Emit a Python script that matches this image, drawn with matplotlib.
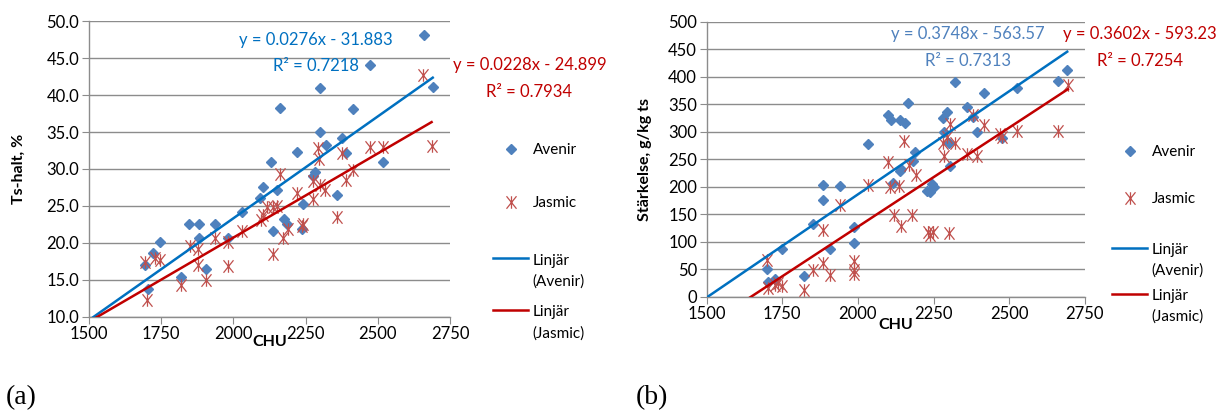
import numpy as np
import matplotlib
matplotlib.use('Agg')
import matplotlib.pyplot as plt
from matplotlib.path import Path
from matplotlib.legend_handler import HandlerLine2D

# (a) Ts-halt (%) against CHU
chu_av_a = [2660, 2473, 2690, 2300, 2161, 2413, 2300, 2375, 2320, 2390, 2221, 2130,
            2519, 2282, 2274, 2104, 2150, 2358, 2092, 2242, 2028, 1847, 1881, 1936,
            2175, 2184, 2138, 2236, 1882, 1982, 1746, 1723, 1694, 1905, 1817, 1705]
ts_av = [48.2, 44.1, 41.1, 40.9, 38.3, 38.1, 35.0, 34.2, 33.2, 32.1, 32.3, 31.0,
         31.0, 29.6, 29.0, 27.5, 27.1, 26.5, 26.0, 25.3, 24.1, 22.5, 22.5, 22.5,
         23.2, 22.6, 21.6, 21.8, 20.6, 20.6, 20.1, 18.6, 17.0, 16.5, 15.3, 13.7]
chu_ja_a = [2658, 2294, 2297, 2375, 2473, 2519, 2686, 2413, 2161, 2390, 2276, 2300,
            2317, 2219, 2277, 2115, 2138, 2150, 2097, 2104, 2358, 2242, 2236, 2190,
            2173, 2028, 1936, 1982, 1850, 1878, 2138, 1694, 1728, 1746, 1878, 1982,
            1905, 1817, 1700]
ts_ja = [42.7, 32.8, 31.3, 32.1, 33.0, 33.0, 33.1, 29.9, 29.3, 28.5, 28.3, 27.8,
         27.2, 26.8, 25.9, 24.9, 24.9, 25.0, 23.1, 23.7, 23.5, 22.6, 22.2, 21.9,
         20.6, 21.6, 20.7, 20.1, 19.5, 19.2, 18.5, 17.4, 17.9, 17.7, 17.0, 16.8,
         14.9, 14.3, 12.2]

# (b) Stärkelse (g/kg ts) against CHU
chu_av_b = [2692, 2662, 2322, 2525, 2418, 2166, 2362, 2295, 2101, 2108, 2138, 2156,
            2281, 2382, 2393, 2283, 2302, 2475, 2032, 2190, 2183, 2143, 2305, 2139,
            2117, 1886, 1941, 2230, 2245, 2240, 2250, 1886, 1853, 1987, 1987, 1908,
            1748, 1698, 1822, 1726, 1704]
st_av = [413, 392, 391, 380, 370, 352, 344, 336, 330, 322, 321, 316,
         324, 327, 300, 300, 279, 288, 278, 263, 247, 232, 237, 228,
         206, 203, 201, 193, 205, 190, 200, 176, 132, 126, 97, 86,
         86, 50, 38, 33, 27]
chu_ja_b = [2694, 2663, 2525, 2477, 2470, 2418, 2381, 2305, 2296, 2280, 2322, 2154,
            2283, 2360, 2394, 2101, 2169, 2193, 2034, 2106, 2137, 1941, 2119, 2180,
            2143, 2232, 2248, 2240, 2302, 1886, 1698, 1886, 1853, 1987, 1987, 1987,
            1908, 1737, 1748, 1726, 1704, 1822]
st_ja = [385, 302, 301, 291, 296, 312, 330, 314, 291, 279, 280, 283,
         256, 259, 255, 244, 240, 221, 203, 200, 201, 167, 149, 149,
         129, 118, 118, 113, 115, 122, 67, 61, 49, 64, 49, 42,
         39, 24, 20, 22, 15, 12]

# trendlines as printed on the charts: slope, intercept, R2
fit_av_a = [0.0276, -31.883, 0.7218]
fit_ja_a = [0.0228, -24.899, 0.7934]
fit_av_b = [0.3748, -563.57, 0.7313]
fit_ja_b = [0.3602, -593.23, 0.7254]

plt.rcParams['font.family'] = ['Lato', 'DejaVu Sans']
plt.rcParams['font.size'] = 11

blue_m = '#4F81BD'
red_m = '#C0504D'
blue_l = '#0070C0'
red_l = '#C00000'
grey = '#8C8C8C'

# excel "star" marker: an x with a vertical bar
star = Path([(-0.8, -1), (0.8, 1), (-0.8, 1), (0.8, -1), (0, -1), (0, 1)],
            [Path.MOVETO, Path.LINETO, Path.MOVETO, Path.LINETO, Path.MOVETO, Path.LINETO])


class FirstLine(HandlerLine2D):
    # put the legend line next to the first row of a two-row label, like excel
    def create_artists(self, legend, orig_handle, xdescent, ydescent, width, height, fontsize, trans):
        arts = super().create_artists(legend, orig_handle, xdescent, ydescent, width, height, fontsize, trans)
        for a in arts:
            a.set_ydata(np.asarray(a.get_ydata()) + 0.85 * fontsize)
        return arts


def eq(fit):
    sign = '-' if fit[1] < 0 else '+'
    return 'y = %sx %s %s\nR² = %s' % (fit[0], sign, abs(fit[1]), fit[2])


def panel(ax, xa, ya, xj, yj, fa, fj, xlim, ylim, yticks, yfmt, xpad):
    ax.plot(xa, ya, 'D', color=blue_m, ms=5.6, mec=blue_m, label='Avenir', zorder=3)
    ax.plot(xj, yj, ls='none', marker=star, ms=9, mec=red_m, mfc='none', mew=0.9,
            label='Jasmic', zorder=3)
    xs = np.linspace(xlim[0], max(xa), 50)
    ax.plot(xs, fa[0] * xs + fa[1], color=blue_l, lw=1.8, label='Linjär\n(Avenir)', zorder=4)
    xs = np.linspace(xlim[0], max(xj), 50)
    ax.plot(xs, fj[0] * xs + fj[1], color=red_l, lw=1.8, label='Linjär\n(Jasmic)', zorder=4)
    ax.set_xlim(xlim)
    ax.set_ylim(ylim)
    ax.set_xticks(np.arange(xlim[0], xlim[1] + 1, 250))
    ax.set_yticks(yticks)
    ax.yaxis.set_major_formatter(yfmt)
    ax.grid(axis='y', color=grey, lw=1)
    ax.set_axisbelow(True)
    for s in ['top', 'right']:
        ax.spines[s].set_visible(False)
    for s in ['left', 'bottom']:
        ax.spines[s].set_color(grey)
        ax.spines[s].set_linewidth(1)
    ax.tick_params(length=5, color=grey, labelsize=12, pad=2)
    ax.set_xlabel('CHU', fontweight='bold', fontsize=11.5, labelpad=xpad)


def legends(ax, x, y_top, y_bot, sp_top, sp_bot):
    h, l = ax.get_legend_handles_labels()
    kw = dict(loc='center left', frameon=False, fontsize=11, borderpad=0, borderaxespad=0,
              handlelength=2.3, handletextpad=0.3)
    leg1 = ax.legend(h[:2], l[:2], bbox_to_anchor=(x, y_top), labelspacing=sp_top, **kw)
    ax.add_artist(leg1)
    leg2 = ax.legend(h[2:], l[2:], bbox_to_anchor=(x, y_bot), labelspacing=sp_bot,
                     handler_map={h[2]: FirstLine(), h[3]: FirstLine()}, **kw)
    for t in leg2.get_texts():
        t.set_linespacing(1.6)


fig = plt.figure(figsize=(12.25, 4.15), dpi=100)
ax1 = fig.add_axes([0.0727, 0.2373, 0.2947, 0.7114])
ax2 = fig.add_axes([0.5769, 0.2851, 0.3086, 0.6627])

panel(ax1, chu_av_a, ts_av, chu_ja_a, ts_ja, fit_av_a, fit_ja_a,
      (1500, 2750), (10, 50), np.arange(10, 51, 5), '{x:.1f}', -5)
panel(ax2, chu_av_b, st_av, chu_ja_b, st_ja, fit_av_b, fit_ja_b,
      (1500, 2750), (0, 500), np.arange(0, 501, 50), '{x:.0f}', -3.5)

ax1.set_ylabel('Ts-halt, %', fontweight='bold', fontsize=11.5)
ax1.yaxis.set_label_coords(-0.175, 0.5)
ax2.set_ylabel('Stärkelse, g/kg ts', fontweight='bold', fontsize=11.5)
ax2.yaxis.set_label_coords(-0.145, 0.5)

ax1.text(0.629, 0.892, eq(fit_av_a), transform=ax1.transAxes, color=blue_l,
         ha='center', va='center', fontsize=12, linespacing=1.8)
ax1.text(1.22, 0.805, eq(fit_ja_a), transform=ax1.transAxes, color=red_l,
         ha='center', va='center', fontsize=12, linespacing=1.85, clip_on=False)
ax2.text(0.691, 0.905, eq(fit_av_b), transform=ax2.transAxes, color=blue_m,
         ha='center', va='center', fontsize=12, linespacing=1.85)
ax2.text(1.146, 0.906, eq(fit_ja_b), transform=ax2.transAxes, color=red_l,
         ha='center', va='center', fontsize=12, linespacing=1.85, clip_on=False)

legends(ax1, 1.119, 0.474, 0.066, 2.56, 1.08)
legends(ax2, 1.072, 0.441, 0.048, 2.16, 0.72)

fig.text(0.005, 0.027, '(a)', family='Liberation Serif', fontsize=20)
fig.text(0.519, 0.027, '(b)', family='Liberation Serif', fontsize=20)

fig.savefig('out.png', dpi=100)
